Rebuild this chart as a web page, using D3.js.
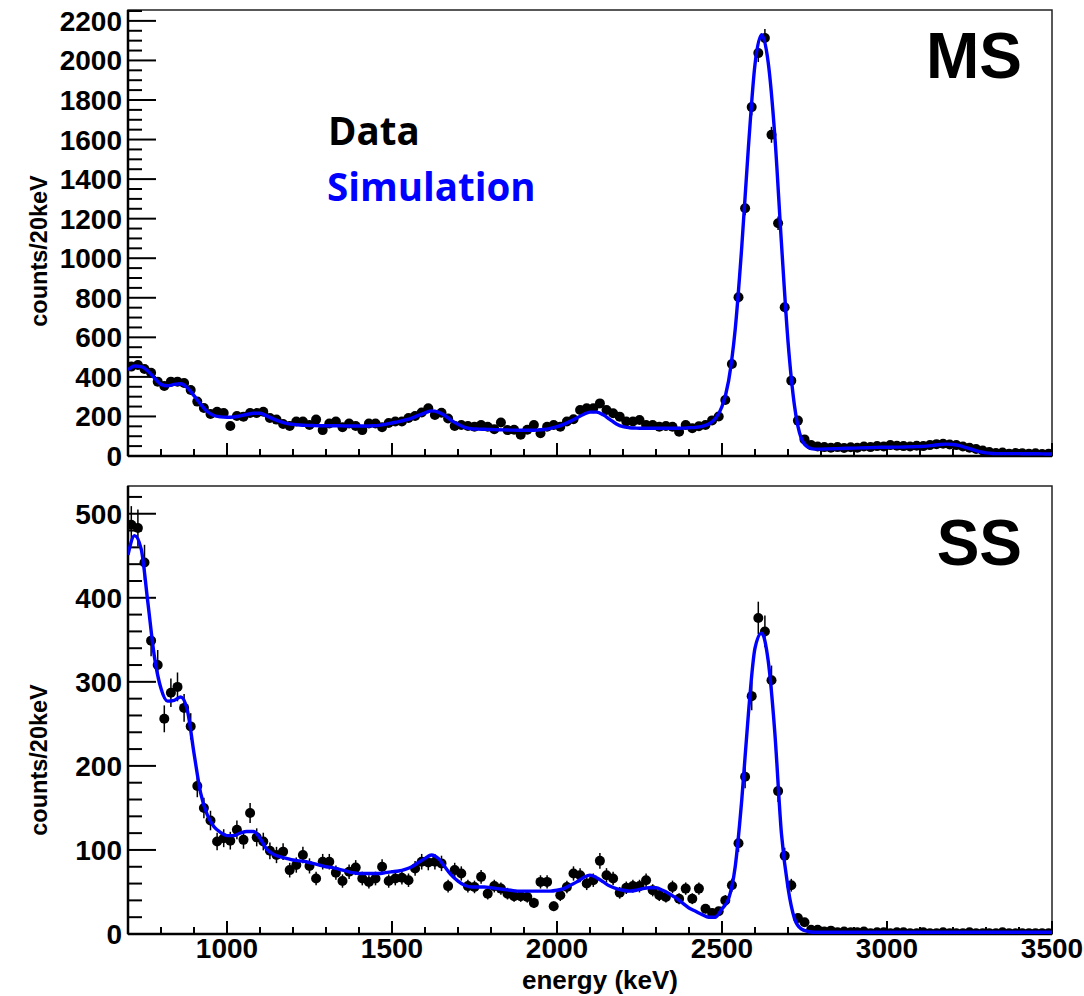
<!DOCTYPE html>
<html>
<head>
<meta charset="utf-8">
<script src="https://cdn.jsdelivr.net/npm/d3@7"></script>
<style>
  body { margin: 0; background: #fff; }
  svg text { font-family: "Liberation Sans", Arial, sans-serif; font-weight: bold; }
</style>
</head>
<body>
<svg id="chart" width="1084" height="996"></svg>
<script>
// 20 keV bins from 700 to 3500 keV
const binStart = 700, binEnd = 3500, binWidth = 20;

// MS data, counts per bin (bin centres 710, 730, ... 3490)
const msData = [
  452, 460, 440, 421, 376, 354, 376, 376, 369, 334,
  275, 243, 212, 224, 217, 152, 202, 199, 217, 217,
  224, 192, 184, 162, 152, 174, 174, 157, 184, 131,
  164, 174, 145, 164, 152, 131, 164, 164, 145, 167,
  174, 174, 192, 202, 220, 241, 207, 219, 190, 152,
  157, 152, 148, 157, 148, 135, 169, 131, 133, 107,
  133, 157, 115, 148, 157, 148, 174, 186, 233, 241,
  241, 266, 233, 216, 199, 174, 174, 182, 157, 157,
  148, 152, 148, 123, 157, 140, 150, 157, 180, 200,
  283, 465, 803, 1253, 1764, 2037, 2113, 1624, 1177, 752,
  381, 179, 84, 55, 48, 45, 42, 45, 40, 44,
  42, 48, 45, 50, 48, 55, 52, 50, 48, 52,
  50, 55, 60, 62, 58, 55, 48, 42, 35, 28,
  20, 15, 18, 12, 15, 14, 12, 14, 10, 12
];

// SS data, counts per bin
const ssData = [
  487, 483, 442, 349, 320, 256, 287, 294, 269, 247,
  176, 150, 135, 110, 114, 111, 124, 112, 144, 115,
  110, 99, 94, 98, 76, 82, 94, 81, 66, 86,
  86, 73, 63, 74, 79, 66, 62, 66, 80, 63,
  66, 67, 64, 78, 86, 85, 86, 84, 57, 76,
  72, 57, 56, 68, 48, 57, 54, 48, 45, 45,
  44, 37, 62, 62, 33, 46, 56, 72, 70, 60,
  64, 87, 70, 66, 49, 55, 57, 57, 64, 52,
  46, 44, 56, 42, 54, 42, 54, 30, 25, 27,
  40, 58, 108, 187, 283, 376, 360, 302, 170, 93,
  58, 19, 14, 5, 5, 3, 4, 2, 3, 2,
  2, 3, 1, 2, 2, 1, 2, 2, 1, 1,
  2, 1, 1, 2, 1, 1, 1, 2, 1, 1,
  1, 1, 2, 1, 1, 1, 1, 1, 1, 1
];

// simulation, sampled at bin edges 700, 720, ... 3500
const msSim = [
  435, 455, 452, 430, 395, 362, 355, 362, 365, 345,
  305, 262, 225, 205, 198, 196, 197, 203, 210, 216,
  216, 203, 188, 175, 165, 160, 157, 155, 154, 153,
  153, 153, 153, 152, 152, 152, 152, 153, 155, 160,
  167, 174, 182, 192, 205, 218, 228, 222, 205, 180,
  160, 145, 138, 136, 135, 134, 133, 132, 131, 130,
  130, 130, 131, 134, 140, 148, 160, 175, 192, 210,
  222, 222, 208, 185, 162, 148, 143, 141, 140, 140,
  140, 140, 140, 140, 141, 143, 145, 150, 162, 190,
  250, 380, 640, 1060, 1560, 1980, 2130, 1990, 1620, 1080,
  580, 250, 90, 45, 35, 35, 36, 37, 38, 39,
  40, 41, 42, 43, 44, 44, 45, 45, 46, 47,
  48, 50, 54, 58, 60, 58, 52, 42, 32, 22,
  16, 13, 12, 12, 12, 12, 11, 11, 11, 10,
  10
];

const ssSim = [
  451, 474, 458, 395, 330, 292, 277, 278, 282, 266,
  215, 168, 142, 128, 121, 117, 117, 120, 122, 122,
  114, 101, 95, 92, 90, 88, 87, 86, 84, 82,
  80, 79, 77, 75, 73, 72, 72, 72, 72, 73,
  74, 75, 77, 80, 85, 90, 94, 90, 80, 70,
  63, 58, 56, 56, 56, 55, 54, 53, 52, 51,
  51, 51, 51, 51, 51, 52, 54, 58, 62, 67,
  70, 67, 62, 57, 54, 52, 51, 52, 54, 55,
  55, 52, 48, 43, 37, 31, 27, 23, 20, 20,
  30, 42, 80, 160, 262, 340, 358, 325, 240, 120,
  55, 18, 6, 3, 2, 2, 2, 2, 2, 2,
  2, 2, 2, 2, 2, 2, 2, 2, 2, 2,
  2, 2, 2, 2, 2, 2, 2, 2, 2, 2,
  2, 2, 2, 2, 2, 2, 2, 2, 2, 2,
  2
];

const xTicks = [1000, 1500, 2000, 2500, 3000, 3500];

const svg = d3.select('#chart');
const left = 128, right = 1052;

const x = d3.scaleLinear().domain([binStart, binEnd]).range([left, right]);

function panel(cfg) {
  const y = d3.scaleLinear().domain([0, cfg.yMax]).range([cfg.bottom, cfg.top]);
  const g = svg.append('g');
  const clipId = 'clip-' + cfg.name;

  g.append('clipPath').attr('id', clipId)
    .append('rect')
      .attr('x', left).attr('y', cfg.top)
      .attr('width', right - left).attr('height', cfg.bottom - cfg.top);

  // frame
  g.append('rect')
    .attr('x', left).attr('y', cfg.top)
    .attr('width', right - left).attr('height', cfg.bottom - cfg.top)
    .attr('fill', 'none').attr('stroke', '#222').attr('stroke-width', 1.5);

  // y axis: major + minor ticks pointing inward
  const yMinor = d3.range(0, cfg.yMax + 0.1, cfg.yMinorStep);
  g.append('g').selectAll('line')
    .data(yMinor)
    .join('line')
      .attr('x1', left)
      .attr('x2', d => left + (d % cfg.yMajorStep === 0 ? 28 : 14))
      .attr('y1', d => y(d)).attr('y2', d => y(d))
      .attr('stroke', '#000').attr('stroke-width', 2);

  g.append('g').selectAll('text')
    .data(d3.range(0, cfg.yMax + 0.1, cfg.yMajorStep))
    .join('text')
      .attr('x', left - 6)
      .attr('y', d => y(d) + 10)
      .attr('text-anchor', 'end')
      .style('font-size', '28px')
      .text(d => d);

  // x axis ticks
  const xMinor = d3.range(binStart, binEnd + 1, 100);
  g.append('g').selectAll('line')
    .data(xMinor)
    .join('line')
      .attr('x1', d => x(d)).attr('x2', d => x(d))
      .attr('y1', cfg.bottom)
      .attr('y2', d => cfg.bottom - (d % 500 === 0 ? 13 : 7))
      .attr('stroke', '#000').attr('stroke-width', 2);

  g.append('line')
    .attr('x1', left).attr('x2', right)
    .attr('y1', cfg.bottom).attr('y2', cfg.bottom)
    .attr('stroke', '#000').attr('stroke-width', 2.5);
  g.append('line')
    .attr('x1', left).attr('x2', left)
    .attr('y1', cfg.top).attr('y2', cfg.bottom)
    .attr('stroke', '#000').attr('stroke-width', 2.5);

  if (cfg.xLabels) {
    g.append('g').selectAll('text')
      .data(xTicks)
      .join('text')
        .attr('x', d => x(d))
        .attr('y', cfg.bottom + 24)
        .attr('text-anchor', 'middle')
        .style('font-size', '28px')
        .text(d => d);
  }

  // y title
  g.append('text')
    .attr('transform', 'translate(47,' + cfg.titleY + ') rotate(-90)')
    .attr('text-anchor', 'middle')
    .style('font-size', '23.5px')
    .text('counts/20keV');

  // data points with poisson error bars
  const pts = cfg.data.map((v, i) => ({ e: binStart + binWidth * (i + 0.5), v: v }));
  const plot = g.append('g').attr('clip-path', 'url(#' + clipId + ')');

  plot.append('g').selectAll('line')
    .data(pts)
    .join('line')
      .attr('x1', d => x(d.e)).attr('x2', d => x(d.e))
      .attr('y1', d => y(d.v - Math.sqrt(d.v)))
      .attr('y2', d => y(d.v + Math.sqrt(d.v)))
      .attr('stroke', '#000').attr('stroke-width', 1.5);

  plot.append('g').selectAll('circle')
    .data(pts)
    .join('circle')
      .attr('cx', d => x(d.e))
      .attr('cy', d => y(d.v))
      .attr('r', 5)
      .attr('fill', '#000');

  // simulation line
  const simPts = cfg.sim.map((v, i) => [binStart + binWidth * i, v]);
  const line = d3.line()
    .x(d => x(d[0]))
    .y(d => y(d[1]))
    .curve(d3.curveMonotoneX);
  plot.append('path')
    .datum(simPts)
    .attr('d', line)
    .attr('fill', 'none')
    .attr('stroke', '#0000ff')
    .attr('stroke-width', 3.4);

  // panel tag
  g.append('text')
    .attr('x', 1022).attr('y', cfg.tagY)
    .attr('text-anchor', 'end')
    .style('font-size', '64px')
    .text(cfg.name);
}

panel({ name: 'MS', data: msData, sim: msSim, top: 10, bottom: 456, yMax: 2255,
        yMajorStep: 200, yMinorStep: 50, titleY: 251, tagY: 78, xLabels: false });
panel({ name: 'SS', data: ssData, sim: ssSim, top: 486, bottom: 934, yMax: 533,
        yMajorStep: 100, yMinorStep: 20, titleY: 760, tagY: 565, xLabels: true });

// legend text
svg.append('text')
  .attr('x', 328).attr('y', 145)
  .style('font-family', '"Open Sans", sans-serif')
  .style('font-size', '38.5px')
  .attr('fill', '#000')
  .text('Data');
svg.append('text')
  .attr('x', 327).attr('y', 201)
  .style('font-family', '"Open Sans", sans-serif')
  .style('font-size', '38.5px')
  .attr('fill', '#0000ff')
  .text('Simulation');

// x axis title
svg.append('text')
  .attr('x', 678).attr('y', 989)
  .attr('text-anchor', 'end')
  .style('font-size', '26px')
  .text('energy (keV)');
</script>
</body>
</html>
